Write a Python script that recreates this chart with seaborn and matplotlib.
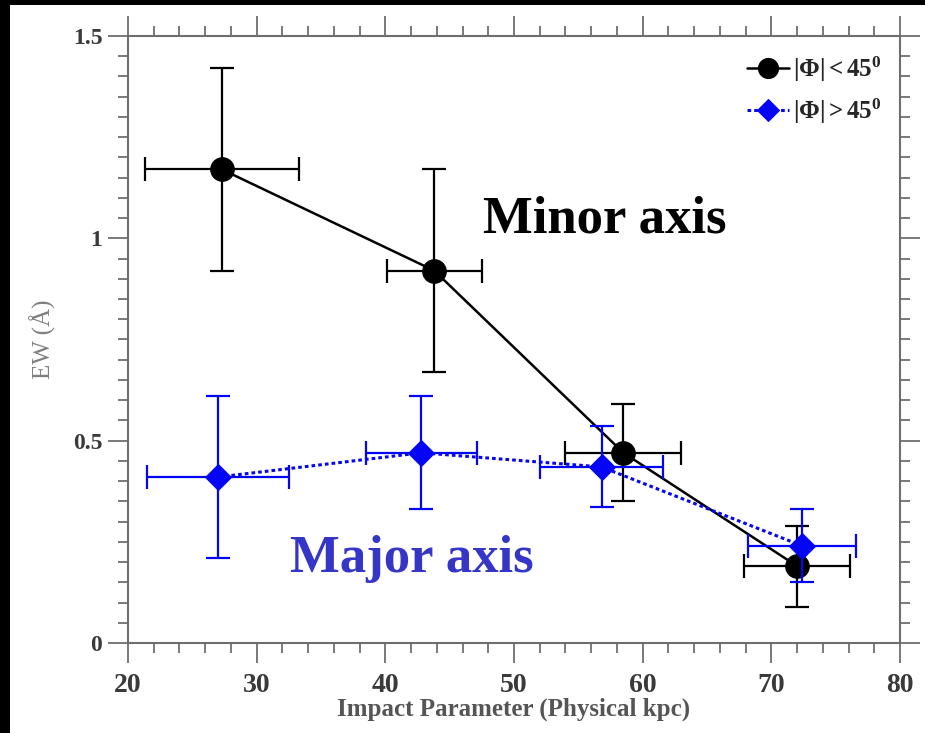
import numpy as np
import pandas as pd
import matplotlib
matplotlib.use("Agg")
import matplotlib.pyplot as plt
from matplotlib.patches import Rectangle
from matplotlib.ticker import MultipleLocator
import seaborn as sns

# Minor-axis sightlines (|Phi| < 45 deg)
minor_b = [27.3, 43.8, 58.5, 72.0]
minor_ew = [1.17, 0.92, 0.47, 0.19]
minor_b_err = [6.0, 3.7, 4.5, 4.1]
minor_ew_err = [0.25, 0.25, 0.12, 0.10]

# Major-axis sightlines (|Phi| > 45 deg)
major_b = [27.0, 42.8, 56.8, 72.4]
major_ew = [0.41, 0.47, 0.435, 0.24]
major_b_err = [5.5, 4.3, 4.8, 4.2]
major_ew_err = [0.20, 0.14, 0.10, 0.09]

x_ticks = [20, 30, 40, 50, 60, 70, 80]
y_ticks = [0, 0.5, 1.0, 1.5]
y_tick_labels = ["0", "0.5", "1", "1.5"]

sns.set_theme(style="ticks")
plt.rcParams["font.family"] = ["Liberation Serif", "DejaVu Serif"]
plt.rcParams["mathtext.fontset"] = "custom"
plt.rcParams["mathtext.rm"] = "Liberation Serif"
plt.rcParams["mathtext.bf"] = "Liberation Serif:bold"
plt.rcParams["mathtext.it"] = "Liberation Serif:italic"

fig = plt.figure(figsize=(9.25, 7.33), dpi=100, facecolor="white")
ax = fig.add_axes([0.1384, 0.1228, 0.973 - 0.1384, 0.951 - 0.1228])

# black frame strips along top and left edges
fig.patches.append(Rectangle((0, 1 - 5 / 733), 1, 5 / 733, transform=fig.transFigure,
                             facecolor="black", edgecolor="none", zorder=-1))
fig.patches.append(Rectangle((0, 0), 10 / 925, 1, transform=fig.transFigure,
                             facecolor="black", edgecolor="none", zorder=-1))

minor_df = pd.DataFrame({"b": minor_b, "ew": minor_ew})
major_df = pd.DataFrame({"b": major_b, "ew": major_ew})

blue = "#0505f5"

# error bars
ax.errorbar(minor_b, minor_ew, xerr=minor_b_err, yerr=minor_ew_err, fmt="none",
            ecolor="black", elinewidth=1.6, capsize=8.5, capthick=1.6, zorder=3)
ax.errorbar(major_b, major_ew, xerr=major_b_err, yerr=major_ew_err, fmt="none",
            ecolor=blue, elinewidth=1.6, capsize=8.5, capthick=1.6, zorder=5)

# connecting lines with markers
sns.lineplot(data=minor_df, x="b", y="ew", ax=ax, sort=False, color="black",
             linewidth=1.8, marker="o", markersize=17, markeredgecolor="black",
             markerfacecolor="black", zorder=4, label=r"$\mathbf{|\Phi|<45^0}$")
sns.lineplot(data=major_df, x="b", y="ew", ax=ax, sort=False, color=blue,
             linewidth=2.2, linestyle=(0, (1.2, 1.0)), marker="D", markersize=13,
             markeredgecolor=blue, markerfacecolor=blue, zorder=6,
             label=r"$\mathbf{|\Phi|>45^0}$")

ax.set_xlim(20, 80)
ax.set_ylim(0, 1.5)
ax.set_xticks(x_ticks)
ax.set_yticks(y_ticks)
ax.set_yticklabels(y_tick_labels)
ax.xaxis.set_minor_locator(MultipleLocator(2))
ax.yaxis.set_minor_locator(MultipleLocator(0.05))

spine_gray = "#6e6e6e"
for s in ax.spines.values():
    s.set_visible(True)
    s.set_color(spine_gray)
    s.set_linewidth(1.5)

ax.tick_params(which="both", direction="out", top=True, right=True,
               color=spine_gray, width=1.3)
ax.tick_params(which="major", length=14.5)
ax.tick_params(which="minor", length=7.2)
ax.tick_params(axis="x", which="major", labelsize=20, pad=7, labelcolor="#3a3a3a")
ax.tick_params(axis="y", which="major", labelsize=17, pad=4, labelcolor="#3a3a3a")
for lab in ax.get_xticklabels() + ax.get_yticklabels():
    lab.set_fontweight("bold")

ax.set_xlabel("Impact Parameter (Physical kpc)", fontsize=18, fontweight="bold",
              color="#555555", labelpad=0)
ax.set_ylabel("EW (Å)", fontsize=18, color="#808080", labelpad=12)

ax.text(0.617, 0.697, "Minor axis", transform=ax.transAxes, fontsize=38,
        fontweight="bold", color="black", ha="center", va="center")
ax.text(0.368, 0.138, "Major axis", transform=ax.transAxes, fontsize=38,
        fontweight="bold", color="#3535c8", ha="center", va="center")

leg = ax.legend(loc="upper right", frameon=False, fontsize=18, handlelength=1.7,
                handletextpad=0.15, borderaxespad=0.35, labelspacing=0.5,
                markerscale=0.85)

fig.savefig("out.png", dpi=100, facecolor="white")
